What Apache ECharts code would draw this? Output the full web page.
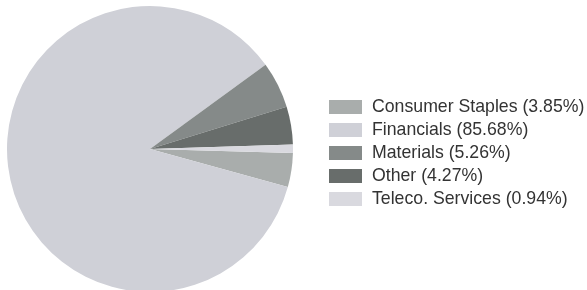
<!DOCTYPE html>
<html>
<head>
<meta charset="utf-8">
<script src="https://cdn.jsdelivr.net/npm/echarts@6/dist/echarts.min.js"></script>
<style>
  html, body { margin: 0; padding: 0; background: #fff; }
  #chart { width: 587px; height: 290px; }
</style>
</head>
<body>
<div id="chart"></div>
<script>
const categories = ['Consumer Staples', 'Financials', 'Materials', 'Other', 'Teleco. Services']
const shares = [3.85, 85.68, 5.26, 4.27, 0.94]
const colors = ['#a9adac', '#cfd0d7', '#858a89', '#686d6b', '#d9d9df']

const chart = echarts.init(document.getElementById('chart'))

const options = {
    animation: false,
    backgroundColor: '#fff',
    color: colors,
    legend: {
        orient: 'vertical',
        left: 324,
        top: 93,
        itemWidth: 33,
        itemHeight: 14,
        itemGap: 5,
        icon: 'rect',
        data: categories,
        formatter: function (name) {
            const i = categories.indexOf(name)
            return name + ' (' + shares[i].toFixed(2) + '%)'
        },
        textStyle: {
            fontFamily: 'Liberation Sans, Arial, sans-serif',
            fontSize: 17.7,
            lineHeight: 14,
            color: '#333',
            padding: [0, 0, 0, 5]
        }
    },
    series: [
        {
            type: 'pie',
            center: [150, 149],
            radius: 143,
            startAngle: -1.6,
            clockwise: true,
            label: { show: false },
            labelLine: { show: false },
            emphasis: { disabled: true },
            itemStyle: { borderWidth: 0 },
            data: categories.map((c, i) => ({ name: c, value: shares[i] }))
        }
    ]
}

chart.setOption(options)
</script>
</body>
</html>
